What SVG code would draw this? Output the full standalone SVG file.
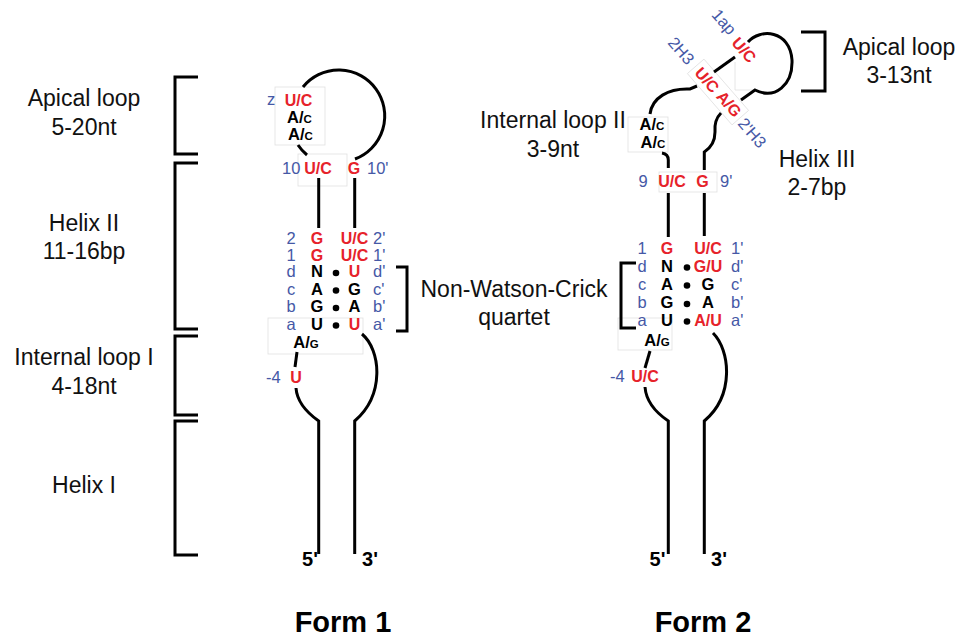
<svg xmlns="http://www.w3.org/2000/svg" width="959" height="637" viewBox="0 0 959 637">
<style>
text{font-family:"Liberation Sans",Arial,sans-serif}
.lab{font-size:23px;fill:#111;text-anchor:middle}
.form{font-size:29px;font-weight:bold;fill:#000;text-anchor:middle}
.bl{font-size:16.5px;fill:#4558a6}
.r{font-size:16px;font-weight:bold;fill:#e6222a}
.k{font-size:16.5px;font-weight:bold;fill:#000}
.m{text-anchor:middle}
.s{font-size:11.5px}
.end{font-size:20px;font-weight:bold;fill:#000;text-anchor:middle}
.ln{fill:none;stroke:#000;stroke-width:3}
.br{fill:none;stroke:#000;stroke-width:3}
.fb{fill:none;stroke:#e0e0e0;stroke-width:0.8}
.dot{fill:#000}
</style>
<rect width="959" height="637" fill="#fff"/>

<!-- faint text-box outlines -->
<g id="faint">
<rect class="fb" x="275" y="87" width="50" height="58"/>
<rect class="fb" x="298" y="154" width="49" height="32"/>
<rect class="fb" x="268" y="318" width="95" height="36"/>
<rect class="fb" x="628" y="117" width="40" height="35"/>
<rect class="fb" x="659" y="172" width="58" height="20"/>
<rect class="fb" x="618" y="318" width="54" height="32"/>
<polyline class="fb" points="735,62 735,90 753,90"/>
<rect class="fb" x="-34" y="-11" width="68" height="22" transform="translate(718,92) rotate(49)"/>
</g>

<!-- brackets -->
<g id="brackets">
<path class="br" d="M198 77 H175 V154 H198"/>
<path class="br" d="M198 163 H175 V329 H198"/>
<path class="br" d="M198 336 H175 V415 H198"/>
<path class="br" d="M198 421 H175 V555 H198"/>
<path class="br" d="M396 267 H407 V331 H396"/>
<path class="br" d="M636 263 H621 V328 H636"/>
<path class="br" d="M801 32 H825 V91 H801"/>
</g>

<!-- region labels -->
<g id="labels">
<text class="lab" x="84" y="106">Apical loop</text>
<text class="lab" x="84" y="135">5-20nt</text>
<text class="lab" x="84" y="231">Helix II</text>
<text class="lab" x="84" y="259">11-16bp</text>
<text class="lab" x="84" y="365">Internal loop I</text>
<text class="lab" x="84" y="394">4-18nt</text>
<text class="lab" x="84" y="493">Helix I</text>
<text class="lab" x="514" y="297">Non-Watson-Crick</text>
<text class="lab" x="514" y="325">quartet</text>
<text class="lab" x="553" y="128">Internal loop II</text>
<text class="lab" x="553" y="157">3-9nt</text>
<text class="lab" x="899" y="55">Apical loop</text>
<text class="lab" x="899" y="83">3-13nt</text>
<text class="lab" x="817" y="167">Helix III</text>
<text class="lab" x="817" y="195">2-7bp</text>
<text class="form" x="343" y="632">Form 1</text>
<text class="form" x="703" y="632">Form 2</text>
</g>

<!-- connectors (RNA backbone) -->
<g id="connectors">
<!-- Form 1 -->
<path class="ln" d="M303 87 A46 46 0 1 1 355 159"/>
<path class="ln" d="M298 145 A46 46 0 0 0 307 155"/>
<path class="ln" d="M318.7 178 V228"/>
<path class="ln" d="M354.7 178 V228"/>
<path class="ln" d="M297 352 L295 367"/>
<path class="ln" d="M296 388 C297 402 306 412 318.7 421 V554"/>
<path class="ln" d="M362 334 C381 350 385 395 354.7 421 V554"/>
<!-- Form 2 -->
<path class="ln" d="M650 114 C652 98 668 88 690 89 L697 86"/>
<path class="ln" d="M714 72 L735 57"/>
<path class="ln" d="M748 42 C760 28 790 30 792 60 C793 85 775 100 755 90 L741 100"/>
<path class="ln" d="M721 113 Q714 120 715 132 Q715 145 704.3 152 V170"/>
<path class="ln" d="M662 153 Q668.3 154 668.3 160 V168"/>
<path class="ln" d="M668.3 193 V237"/>
<path class="ln" d="M704.3 193 V236"/>
<path class="ln" d="M650 351 L645 368"/>
<path class="ln" d="M645 387 C646 400 655 412 668.3 421 V554"/>
<path class="ln" d="M713 333 C730 350 735 395 704.3 421 V554"/>
</g>

<!-- Form 1 nucleotides -->
<g id="form1">
<text class="bl" x="267" y="105">z</text>
<text class="r m" x="298.5" y="106">U/C</text>
<text class="k m" x="299.5" y="123">A/<tspan class="s">C</tspan></text>
<text class="k m" x="300.5" y="140">A/<tspan class="s">C</tspan></text>
<text class="bl" x="282" y="174">10</text>
<text class="r m" x="318" y="174">U/C</text>
<text class="r m" x="354" y="174">G</text>
<text class="bl" x="367" y="174">10'</text>

<text class="bl m" x="291" y="244.3">2</text>
<text class="r m" x="317" y="244.3">G</text>
<text class="r m" x="354.5" y="244.3">U/C</text>
<text class="bl" x="373" y="244.3">2'</text>

<text class="bl m" x="291" y="261">1</text>
<text class="r m" x="317" y="261">G</text>
<text class="r m" x="354.5" y="261">U/C</text>
<text class="bl" x="373" y="261">1'</text>

<text class="bl m" x="291" y="277.3">d</text>
<text class="k m" x="317" y="277.3">N</text>
<circle class="dot" cx="336" cy="273" r="3.3"/>
<text class="r m" x="354.5" y="277.3">U</text>
<text class="bl" x="373" y="277.3">d'</text>

<text class="bl m" x="291" y="295">c</text>
<text class="k m" x="317" y="295">A</text>
<circle class="dot" cx="336" cy="290.5" r="3.3"/>
<text class="k m" x="354.5" y="295">G</text>
<text class="bl" x="373" y="295">c'</text>

<text class="bl m" x="291" y="312.3">b</text>
<text class="k m" x="317" y="312.3">G</text>
<circle class="dot" cx="336" cy="308" r="3.3"/>
<text class="k m" x="354.5" y="312.3">A</text>
<text class="bl" x="373" y="312.3">b'</text>

<text class="bl m" x="291" y="330">a</text>
<text class="k m" x="317" y="330">U</text>
<circle class="dot" cx="336" cy="325.5" r="3.3"/>
<text class="r m" x="354.5" y="330">U</text>
<text class="bl" x="373" y="330">a'</text>

<text class="k m" x="306" y="348">A/<tspan class="s">G</tspan></text>
<text class="bl" x="266" y="383">-4</text>
<text class="r m" x="296" y="383">U</text>
<text class="end" x="310" y="566">5'</text>
<text class="end" x="370" y="566">3'</text>
</g>

<!-- Form 2 nucleotides -->
<g id="form2">
<text class="bl m" transform="translate(724,22) rotate(49)" y="5.5">1ap</text>
<text class="r m" transform="translate(744,50) rotate(49)" y="5.5">U/C</text>
<text class="bl m" transform="translate(681,51) rotate(49)" y="5.5">2H3</text>
<text class="r m" transform="translate(707,80) rotate(49)" y="5.5">U/C</text>
<text class="r m" transform="translate(729,104) rotate(49)" y="5.5">A/G</text>
<text class="bl m" transform="translate(752,133) rotate(49)" y="5.5">2'H3</text>

<text class="k m" x="652" y="130">A/<tspan class="s">C</tspan></text>
<text class="k m" x="653" y="148">A/<tspan class="s">C</tspan></text>

<text class="bl m" x="643" y="186.7">9</text>
<text class="r m" x="672" y="186.7">U/C</text>
<text class="r m" x="702.5" y="186.7">G</text>
<text class="bl" x="720" y="186.7">9'</text>

<text class="bl m" x="642" y="254.3">1</text>
<text class="r m" x="667" y="254.3">G</text>
<text class="r m" x="708" y="254.3">U/C</text>
<text class="bl" x="731" y="254.3">1'</text>

<text class="bl m" x="642" y="271.7">d</text>
<text class="k m" x="667" y="271.7">N</text>
<circle class="dot" cx="687" cy="267.5" r="3.3"/>
<text class="r m" x="708" y="271.7">G/U</text>
<text class="bl" x="731" y="271.7">d'</text>

<text class="bl m" x="642" y="290">c</text>
<text class="k m" x="667" y="290">A</text>
<circle class="dot" cx="687" cy="285.5" r="3.3"/>
<text class="k m" x="708" y="290">G</text>
<text class="bl" x="731" y="290">c'</text>

<text class="bl m" x="642" y="308.3">b</text>
<text class="k m" x="667" y="308.3">G</text>
<circle class="dot" cx="687" cy="304" r="3.3"/>
<text class="k m" x="708" y="308.3">A</text>
<text class="bl" x="731" y="308.3">b'</text>

<text class="bl m" x="642" y="326">a</text>
<text class="k m" x="667" y="326">U</text>
<circle class="dot" cx="687" cy="321.5" r="3.3"/>
<text class="r m" x="708" y="326">A/U</text>
<text class="bl" x="731" y="326">a'</text>

<text class="k m" x="657" y="345.7">A/<tspan class="s">G</tspan></text>
<text class="bl" x="610" y="381.7">-4</text>
<text class="r m" x="645" y="381.7">U/C</text>
<text class="end" x="657.5" y="566">5'</text>
<text class="end" x="719" y="566">3'</text>
</g>
</svg>
